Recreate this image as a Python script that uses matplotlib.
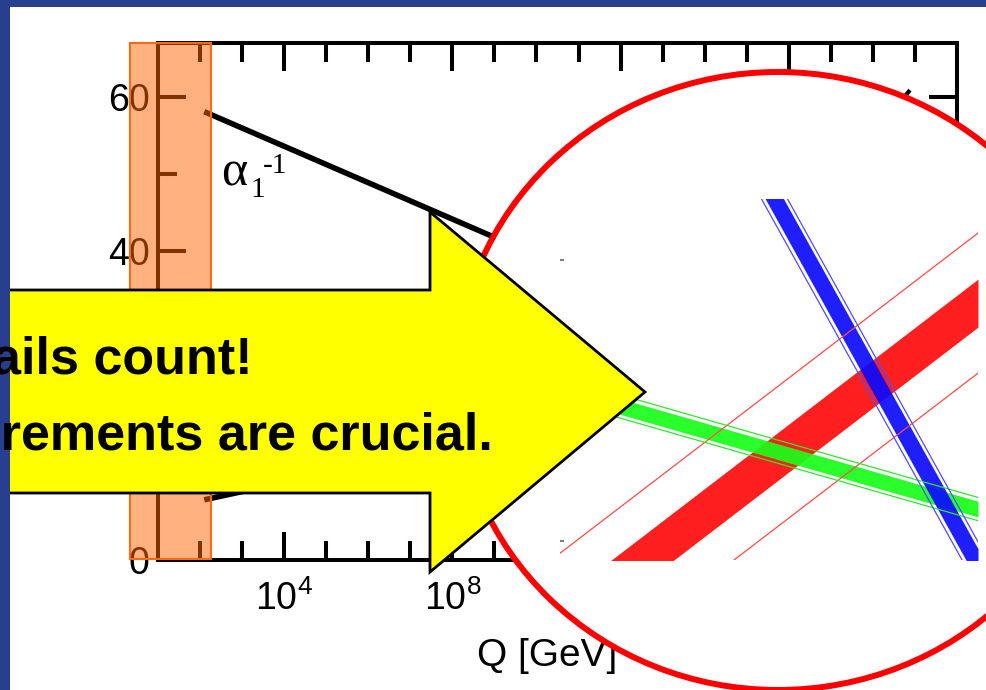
import matplotlib
matplotlib.use("Agg")
import matplotlib.pyplot as plt
import numpy as np
from matplotlib.patches import Ellipse, Polygon, Rectangle
from matplotlib.ticker import FixedLocator, FuncFormatter, NullFormatter

plt.rcParams["font.family"] = ["Liberation Sans", "DejaVu Sans"]
plt.rcParams["mathtext.fontset"] = "custom"
plt.rcParams["mathtext.rm"] = "Liberation Sans"
plt.rcParams["mathtext.it"] = "Liberation Sans:italic"

# running inverse couplings (main panel)
q_gev = [125.9, 2.0e16]
alpha1_inv = [58.1, 24.6]
alpha2_inv = [29.6, 24.6]
alpha3_inv = [7.8, 24.6]
tail_q = [5.8e18, 7.6e18]
tail_val = [60.1, 60.9]

x_major = [1e4, 1e8, 1e12, 1e16]
x_minor = [10.0 ** k for k in range(2, 20)]
y_major = [0, 20, 40, 60]
y_minor = [10, 30, 50]

# magnified crossing region, log10(Q) vs alpha^-1
zoom_logq = [15.6, 16.6]
red_mid = [23.06, 24.77]
green_mid = [24.31, 23.67]
blue_logq = [16.05, 16.60]
blue_mid = [25.58, 23.37]
red_core, red_err = 0.128, 0.374
green_core, green_err = 0.042, 0.062
blue_core, blue_err = 0.088, 0.125

W, H = 986, 690
fig = plt.figure(figsize=(W / 100, H / 100), dpi=100)
fig.patch.set_facecolor("white")


def frac(x0, y0, x1, y1):
    """Pixel box (top-left origin) to figure fraction rect."""
    return [x0 / W, 1 - y1 / H, (x1 - x0) / W, (y1 - y0) / H]


def overlay(z):
    o = fig.add_axes([0, 0, 1, 1], zorder=z)
    o.set_xlim(0, W)
    o.set_ylim(H, 0)
    o.set_axis_off()
    return o


# main plot
ax = fig.add_axes(frac(158, 43, 957, 560), zorder=1)
ax.set_xscale("log")
ax.set_xlim(10, 1e20)
ax.set_ylim(0, 67)
for vals in (alpha1_inv, alpha2_inv, alpha3_inv):
    ax.plot(q_gev, vals, color="black", lw=4, solid_capstyle="butt")
ax.plot(tail_q, tail_val, color="black", lw=3, solid_capstyle="butt")

ax.xaxis.set_major_locator(FixedLocator(x_major))
ax.xaxis.set_minor_locator(FixedLocator(x_minor))
ax.xaxis.set_major_formatter(
    FuncFormatter(lambda v, p: r"$\mathregular{10^{%d}}$" % round(np.log10(v)))
)
ax.xaxis.set_minor_formatter(NullFormatter())
ax.yaxis.set_major_locator(FixedLocator(y_major))
ax.yaxis.set_minor_locator(FixedLocator(y_minor))
ax.yaxis.set_minor_formatter(NullFormatter())
ax.tick_params(which="both", direction="in", top=True, right=True,
               width=2.9, color="black", labelsize=27)
ax.tick_params(which="major", length=20)
ax.tick_params(which="minor", length=14)
ax.tick_params(axis="x", pad=15)
ax.tick_params(axis="y", pad=6)
for s in ax.spines.values():
    s.set_linewidth(2.9)
ax.set_xlabel("Q [GeV]", fontsize=28)
ax.xaxis.set_label_coords((547 - 158) / 799, -(638 - 560) / 517)

# highlight strip and magnifier circle
low = overlay(2)
low.add_patch(Rectangle((130, 43), 81, 516, facecolor=(1, 0.4, 0, 0.5),
                        edgecolor="#ff6a10", lw=1.5))
low.add_patch(Ellipse((778, 381), 644, 618, facecolor="white",
                      edgecolor="#ff0000", lw=4.3))
low.text(221, 186, "α", family="Liberation Serif", fontsize=36, va="baseline")
low.text(250, 197, "1", family="Liberation Serif", fontsize=21, va="baseline")
low.text(263, 173, "-1", family="Liberation Serif", fontsize=21, va="baseline")

# magnified view inside the circle
ins = fig.add_axes(frac(560, 199, 978, 560), zorder=3)
ins.set_xlim(15.6, 16.6)
ins.set_ylim(23.398, 25.326)
ins.patch.set_visible(False)
for s in ins.spines.values():
    s.set_visible(False)
ins.set_xticks([])
ins.set_yticks([23.5, 25.0])
ins.set_yticklabels([])
ins.tick_params(axis="y", direction="in", length=3, width=1.5, color="#808080")


def band(x, mid, core, err, fill, edge, alpha=1.0):
    mid = np.asarray(mid)
    ins.fill_between(x, mid - core, mid + core, color=fill, lw=0, alpha=alpha)
    ins.plot(x, mid - err, color=edge, lw=0.9)
    ins.plot(x, mid + err, color=edge, lw=0.9)


band(zoom_logq, red_mid, red_core, red_err, "#ff1f1f", "#ff4a4a")
band(zoom_logq, green_mid, green_core, green_err, "#19ff19", "#2ee62e", 0.92)
band(blue_logq, blue_mid, blue_core, blue_err, "#0a0aff", "#4d4dff", 0.92)

# callout arrow and slide frame
top = overlay(4)
top.add_patch(Polygon([(-20, 290), (430, 290), (430, 212), (645, 392),
                       (430, 572), (430, 493), (-20, 493)],
                      closed=True, facecolor="#ffff00", edgecolor="black", lw=2))
top.text(253, 373, "Details count!", fontsize=37.5, fontweight="bold",
         ha="right", va="baseline")
top.text(493, 450, "Precise measurements are crucial.", fontsize=37.5,
         fontweight="bold", ha="right", va="baseline")
top.add_patch(Rectangle((0, 0), W, 7, facecolor="#283f8f", lw=0))
top.add_patch(Rectangle((0, 0), 10, H, facecolor="#283f8f", lw=0))

fig.savefig("out.png", dpi=100)
